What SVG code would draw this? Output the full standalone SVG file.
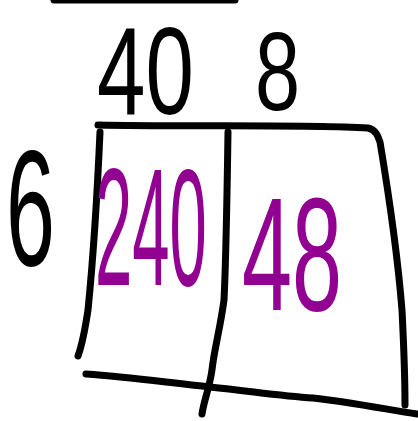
<svg xmlns="http://www.w3.org/2000/svg" width="418" height="421" viewBox="0 0 418 421">
<style>
.ln{fill:none;stroke:#000;stroke-width:7;stroke-linecap:round;stroke-linejoin:round}
.blk{font-family:"Liberation Sans",Arial,sans-serif;fill:#000}
.pur{font-family:"Liberation Sans",Arial,sans-serif;fill:#910091}
</style>
<rect width="418" height="421" fill="#fff"/>
<g id="connectors">
<path class="ln" d="M54,0 L235,0"/>
<path class="ln" d="M98,125 C180,127 300,124 368,128 C376,130 378,136 380,142 C388,190 398,260 402,310 C404,350 405,380 405,405"/>
<path class="ln" d="M100,132 C97,200 92,270 88,310 C85,330 82,345 78,356"/>
<path class="ln" d="M228,132 C227,200 226,260 224,300 C220,330 214,350 212,370 C209,390 204,400 202,414"/>
<path class="ln" d="M86,374 C130,377 170,383 210,387 C250,391 280,396 313,398 C350,402 390,410 417,414"/>
</g>
<g id="label-40"><text class="blk" transform="translate(97,114) scale(1,1.42)" font-size="87">40</text></g>
<g id="label-8"><text class="blk" transform="translate(255,110) scale(1,1.38)" font-size="81">8</text></g>
<g id="label-6"><text class="blk" transform="translate(6,265) scale(1,1.87)" font-size="88">6</text></g>
<g id="cell-240"><text class="pur" transform="translate(95,285) scale(1,2.5)" font-size="67">240</text></g>
<g id="cell-48"><text class="pur" transform="translate(242,310) scale(1,1.79)" font-size="90">48</text></g>
</svg>
